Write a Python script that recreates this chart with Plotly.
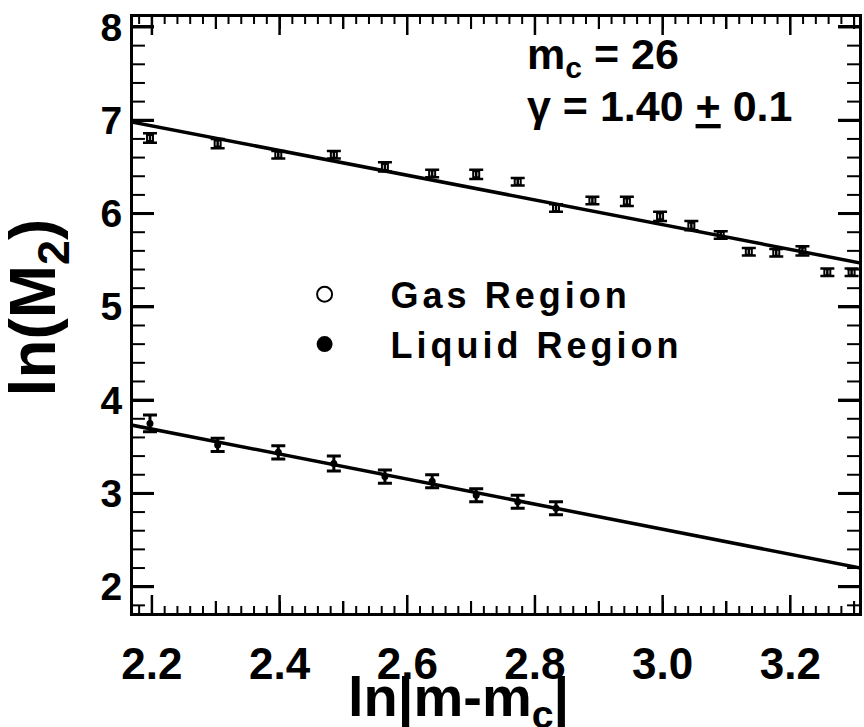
import plotly.graph_objects as go

# ln|m - m_c| for each measured size m
gas_x = [2.197, 2.303, 2.398, 2.485, 2.565, 2.639, 2.708, 2.773, 2.833, 2.890,
         2.944, 2.996, 3.045, 3.091, 3.135, 3.178, 3.219, 3.258, 3.296]
gas_y = [6.81, 6.75, 6.63, 6.63, 6.50, 6.43, 6.42, 6.34, 6.06, 6.14,
         6.13, 5.97, 5.87, 5.77, 5.59, 5.58, 5.60, 5.37, 5.37]
gas_err = [0.05, 0.05, 0.04, 0.04, 0.05, 0.04, 0.05, 0.04, 0.04, 0.04,
           0.05, 0.05, 0.05, 0.04, 0.04, 0.04, 0.05, 0.04, 0.04]

liq_x = [2.197, 2.303, 2.398, 2.485, 2.565, 2.639, 2.708, 2.773, 2.833]
liq_y = [3.75, 3.52, 3.44, 3.32, 3.18, 3.13, 2.98, 2.91, 2.84]
liq_err = [0.09, 0.07, 0.07, 0.08, 0.07, 0.07, 0.07, 0.07, 0.07]

# power-law fits (straight lines in log-log)
fit_x = [2.17, 3.31]
gas_fit_y = [6.98, 5.47]
liq_fit_y = [3.73, 2.20]

x_range = [2.1704, 3.3076]
y_range = [1.718, 8.107]
x_tick_labels = ["2.2", "2.4", "2.6", "2.8", "3.0", "3.2"]
x_unlabelled = ["2.3", "2.5", "2.7", "2.9", "3.1", "3.3"]

FONT = "Liberation Sans, Arial, Helvetica, sans-serif"
PLOT_W, PLOT_H = 729, 596  # plotting area in px (from the margins below)

fig = go.Figure()

fig.add_trace(go.Scatter(x=fit_x, y=gas_fit_y, mode="lines",
                         line=dict(color="black", width=3.5), showlegend=False))
fig.add_trace(go.Scatter(x=fit_x, y=liq_fit_y, mode="lines",
                         line=dict(color="black", width=3.5), showlegend=False))

fig.add_trace(go.Scatter(
    x=gas_x, y=gas_y, mode="markers", showlegend=False,
    marker=dict(symbol="square-open", size=6, color="black", line=dict(width=2)),
    error_y=dict(type="data", array=gas_err, color="black", thickness=2.5, width=7),
))
fig.add_trace(go.Scatter(
    x=liq_x, y=liq_y, mode="markers", showlegend=False,
    marker=dict(symbol="circle", size=7, color="black"),
    error_y=dict(type="data", array=liq_err, color="black", thickness=3, width=7),
))

# legend entries
fig.add_trace(go.Scatter(x=[None], y=[None], mode="markers",
                         name='<span style="letter-spacing:4px">Gas Region</span>',
                         marker=dict(symbol="circle-open", size=15, color="black",
                                     line=dict(width=2))))
fig.add_trace(go.Scatter(x=[None], y=[None], mode="markers",
                         name='<span style="letter-spacing:4px">Liquid Region</span>',
                         marker=dict(symbol="circle", size=17, color="black")))

fig.update_layout(
    width=864, height=727,
    margin=dict(l=133, r=2, t=17, b=114),
    paper_bgcolor="white", plot_bgcolor="white",
    font=dict(family=FONT, color="black"),
    showlegend=True,
    legend=dict(x=0.173, y=0.585, xanchor="left", yanchor="top",
                bgcolor="rgba(0,0,0,0)", itemwidth=122,
                font=dict(family=FONT, size=36, weight="bold", color="black"),
                tracegroupgap=0),
)

fig.update_xaxes(
    range=x_range, tickmode="linear", tick0=2.2, dtick=0.1, tickformat=".1f",
    labelalias={s: "" for s in x_unlabelled},
    ticks="inside", ticklen=12, tickwidth=2, tickcolor="black",
    showline=True, linewidth=3, linecolor="black", mirror="ticks",
    showgrid=False, zeroline=False, ticklabelstandoff=10,
    tickfont=dict(family=FONT, size=44, weight="bold", color="black"),
)
fig.update_yaxes(
    range=y_range, tickmode="linear", tick0=2, dtick=1,
    ticks="inside", ticklen=21, tickwidth=3, tickcolor="black",
    showline=True, linewidth=3, linecolor="black", mirror="ticks",
    showgrid=False, zeroline=False,
    tickfont=dict(family=FONT, size=39, weight="bold", color="black"),
)


# inward tick marks on all four sides: long / medium / short on x, long / short on y
def x_tick(v, length, width):
    f = length / PLOT_H
    return [dict(type="line", xref="x", yref="paper", x0=v, x1=v, y0=0, y1=f,
                 line=dict(color="black", width=width)),
            dict(type="line", xref="x", yref="paper", x0=v, x1=v, y0=1, y1=1 - f,
                 line=dict(color="black", width=width))]


def y_tick(v, length, width):
    f = length / PLOT_W
    return [dict(type="line", xref="paper", yref="y", x0=0, x1=f, y0=v, y1=v,
                 line=dict(color="black", width=width)),
            dict(type="line", xref="paper", yref="y", x0=1, x1=1 - f, y0=v, y1=v,
                 line=dict(color="black", width=width))]


tick_shapes = []
for i in range(58):
    v = round(2.18 + 0.02 * i, 2)
    if x_range[0] <= v <= x_range[1]:
        if abs(v * 10 - round(v * 10)) < 1e-6:
            tenth = int(round(v * 10))
            length, width = (18, 2.5) if tenth % 2 == 0 else (12, 2)
        else:
            length, width = 7, 2
        tick_shapes += x_tick(v, length, width)
for i in range(33):
    v = round(1.8 + 0.2 * i, 1)
    if y_range[0] <= v <= y_range[1]:
        if abs(v - round(v)) < 1e-6:
            tick_shapes += y_tick(v, 21, 3)
        else:
            tick_shapes += y_tick(v, 12, 2)
fig.update_layout(shapes=tick_shapes)

annotations = [
    dict(text="ln|m-m<sub>c</sub>|", xref="paper", yref="paper",
         x=(460 - 133) / 729, y=-(700 - 613) / 596, xanchor="center", yanchor="middle",
         showarrow=False, font=dict(family=FONT, size=56, weight="bold", color="black")),
    dict(text="ln(M<sub>2</sub>)", xref="paper", yref="paper",
         x=-(133 - 37) / 729, y=(613 - 307) / 596, xanchor="center", yanchor="middle",
         textangle=-90, showarrow=False,
         font=dict(family=FONT, size=64, weight="bold", color="black")),
    dict(text="m<sub>c</sub> = 26", xref="paper", yref="paper",
         x=(527 - 133) / 729, y=(613 - 57) / 596, xanchor="left", yanchor="middle",
         showarrow=False, font=dict(family=FONT, size=43, weight="bold", color="black")),
    dict(text="γ = 1.40 <u>+</u> 0.1", xref="paper", yref="paper",
         x=(527 - 133) / 729, y=(613 - 106) / 596, xanchor="left", yanchor="middle",
         showarrow=False, font=dict(family=FONT, size=43, weight="bold", color="black")),
]
fig.update_layout(annotations=annotations)

fig.write_html("out.html")
